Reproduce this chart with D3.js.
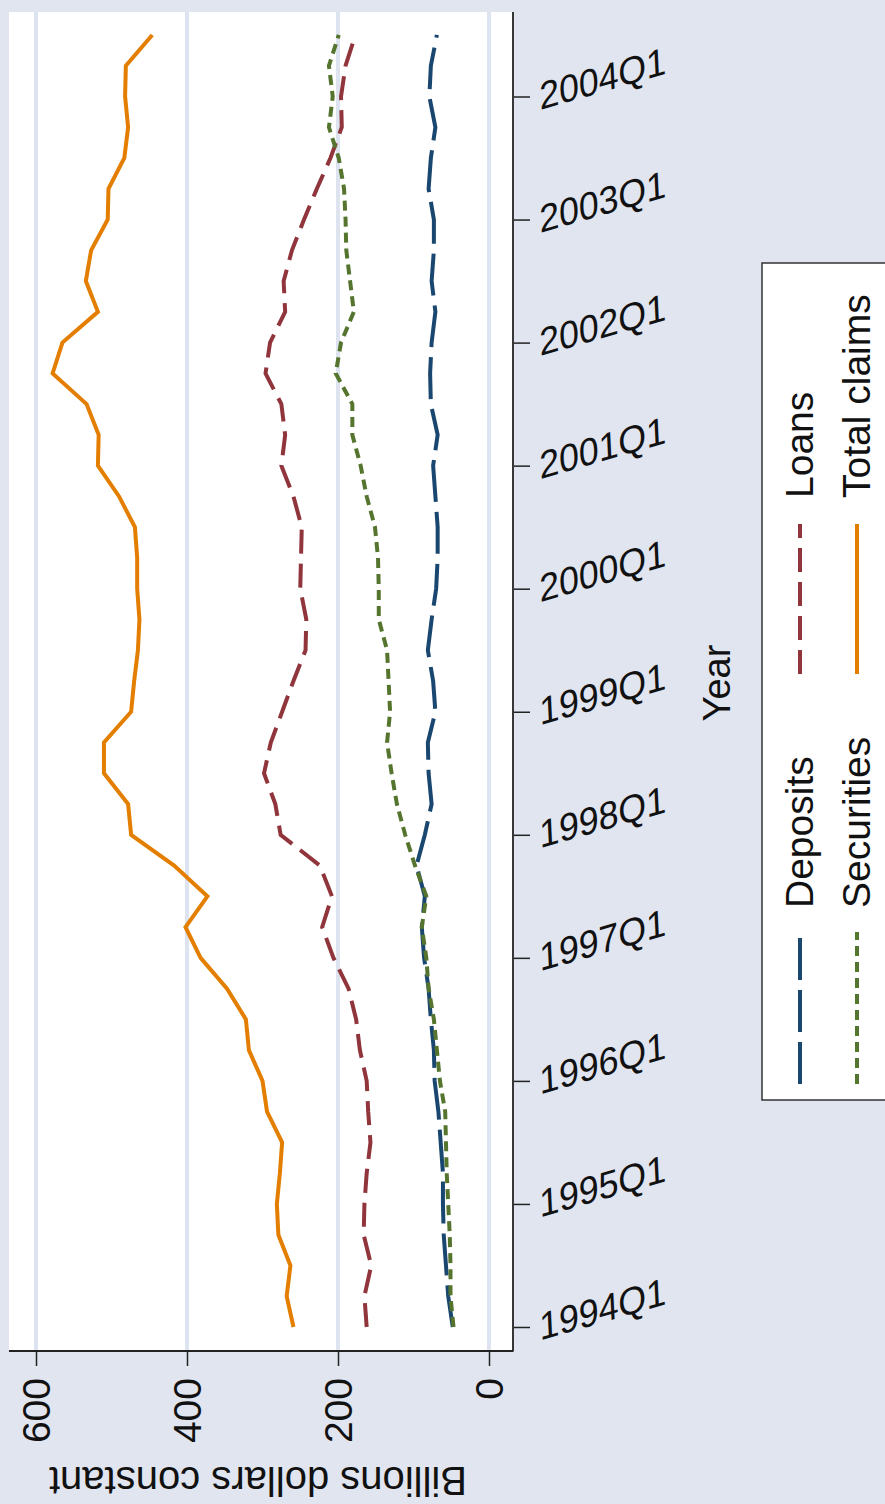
<!DOCTYPE html>
<html>
  <head>
    <meta charset="utf-8">
    <title>Foreign claims</title>
    <script src="https://d3js.org/d3.v7.min.js"></script>
    <style>
      body { margin: 0; background: #e0e5f0; }
      svg { display: block; }
      text { font-family: "Liberation Sans", Arial, sans-serif; fill: #111; }
      .axis .domain { display: none; }
      .axis .tick line { stroke: #222; stroke-width: 1.5px; }
      .grid { stroke: #dde3ef; stroke-width: 4px; }
    </style>
  </head>
  <body>
    <svg width="885" height="1504"></svg>
    <script>
      // quarterly data, 1994Q1 .. 2004Q3 (billions, constant dollars)
      const yearLabels = ["1994Q1", "1995Q1", "1996Q1", "1997Q1", "1998Q1", "1999Q1",
                          "2000Q1", "2001Q1", "2002Q1", "2003Q1", "2004Q1"];
      const valueTicks = [0, 200, 400, 600];

      const deposits = [48, 54, 57, 60, 61, 61, 64, 67, 72, 73, 77, 80,
                        86, 89, 85, 96, 85, 76, 80, 81, 71, 74, 81, 76,
                        70, 68, 68, 71, 74, 68, 77, 78, 76, 71, 76, 73,
                        73, 80, 77, 71, 79, 77, 69];
      const loans = [162, 165, 156, 166, 165, 162, 157, 160, 162, 171, 176, 186,
                     206, 221, 208, 224, 276, 283, 298, 289, 274, 259, 243, 242,
                     250, 249, 248, 259, 275, 270, 275, 296, 290, 270, 272, 261,
                     245, 228, 210, 195, 196, 190, 177];
      const securities = [47, 51, 51, 52, 54, 56, 57, 58, 65, 69, 73, 80,
                          83, 89, 83, 98, 111, 122, 129, 135, 131, 133, 135, 146,
                          146, 147, 151, 162, 170, 181, 181, 203, 196, 179, 184, 189,
                          190, 192, 199, 212, 207, 212, 199];
      const totalClaims = [259, 268, 263, 279, 281, 277, 274, 294, 300, 318, 322, 347,
                           382, 402, 373, 417, 474, 478, 510, 510, 474, 470, 465, 463,
                           466, 466, 469, 490, 518, 517, 533, 578, 565, 518, 534, 527,
                           505, 504, 483, 478, 482, 481, 446];

      const series = [
        {name: "Deposits", values: deposits, color: "#1a476f", dash: "42,10"},
        {name: "Loans", values: loans, color: "#90353b", dash: "24,10"},
        {name: "Securities", values: securities, color: "#55752f", dash: "10,6"},
        {name: "Total claims", values: totalClaims, color: "#e37e00", dash: null}
      ];

      const svg = d3.select("svg");
      const plot = {left: 9, right: 513, top: 12, bottom: 1351};

      // chart is laid out turned on its side: values run right-to-left, time bottom-to-top
      const x = d3.scaleLinear().domain([0, 600]).range([489, 36]);
      const y = d3.scaleLinear().domain([0, 40]).range([1327, 96.5]);

      svg.append("rect")
          .attr("x", plot.left).attr("y", plot.top)
          .attr("width", plot.right - plot.left).attr("height", plot.bottom - plot.top)
          .attr("fill", "#fff");

      svg.append("g").selectAll("line").data(valueTicks)
        .enter().append("line")
          .attr("class", "grid")
          .attr("x1", d => x(d)).attr("x2", d => x(d))
          .attr("y1", plot.top).attr("y2", plot.bottom);

      const line = d3.line()
          .x(d => x(d))
          .y((d, i) => y(i));

      svg.append("g").selectAll("path").data(series)
        .enter().append("path")
          .attr("d", d => line(d.values))
          .attr("fill", "none")
          .attr("stroke", d => d.color)
          .attr("stroke-width", 4)
          .attr("stroke-dasharray", d => d.dash);

      // axis lines
      svg.append("line")
          .attr("x1", plot.left).attr("x2", plot.right + 0.5)
          .attr("y1", plot.bottom).attr("y2", plot.bottom)
          .attr("stroke", "#222").attr("stroke-width", 1.8);
      svg.append("line")
          .attr("x1", plot.right).attr("x2", plot.right)
          .attr("y1", plot.top).attr("y2", plot.bottom)
          .attr("stroke", "#222").attr("stroke-width", 1.8);

      const valueAxis = d3.axisBottom(x).tickValues(valueTicks).tickSize(15);
      const valueAxisG = svg.append("g")
          .attr("class", "axis")
          .attr("transform", `translate(0,${plot.bottom})`)
          .call(valueAxis);
      valueAxisG.selectAll("text")
          .attr("x", 0).attr("y", 0).attr("dy", "0.35em")
          .attr("text-anchor", "end")
          .attr("font-size", 39)
          .attr("transform", "translate(0,27) rotate(-90)");

      const timeAxis = d3.axisRight(y)
          .tickValues(yearLabels.map((d, i) => i * 4))
          .tickFormat((d, i) => yearLabels[i])
          .tickSize(16);
      const timeAxisG = svg.append("g")
          .attr("class", "axis")
          .attr("transform", `translate(${plot.right + 1},0)`)
          .call(timeAxis);
      timeAxisG.selectAll("text")
          .attr("x", 0).attr("y", 0).attr("dy", 0)
          .attr("text-anchor", "start")
          .attr("font-size", 37)
          .attr("transform", "translate(26,13) matrix(0.961,-0.276,0.05,1.04,0,0)");

      // axis titles
      svg.append("text")
          .attr("transform", "translate(730,683) rotate(-90)")
          .attr("text-anchor", "middle")
          .attr("font-size", 38)
          .text("Year");
      svg.append("text")
          .attr("transform", "translate(258,1467) rotate(180)")
          .attr("text-anchor", "middle")
          .attr("font-size", 40)
          .text("Billions dollars constant");

      // legend
      const legend = svg.append("g");
      legend.append("rect")
          .attr("x", 762).attr("y", 263)
          .attr("width", 150).attr("height", 837)
          .attr("fill", "#fff")
          .attr("stroke", "#333").attr("stroke-width", 1.5);

      const legendPos = [
        {kx: 800, ty: 908, k0: 1084, k1: 932},
        {kx: 800, ty: 498, k0: 674, k1: 524},
        {kx: 857, ty: 908, k0: 1084, k1: 932},
        {kx: 857, ty: 498, k0: 674, k1: 524}
      ];
      const items = legend.selectAll("g.item").data(series)
        .enter().append("g").attr("class", "item");
      items.append("line")
          .attr("x1", (d, i) => legendPos[i].kx).attr("x2", (d, i) => legendPos[i].kx)
          .attr("y1", (d, i) => legendPos[i].k0).attr("y2", (d, i) => legendPos[i].k1)
          .attr("stroke", d => d.color)
          .attr("stroke-width", 4)
          .attr("stroke-dasharray", d => d.dash);
      items.append("text")
          .attr("transform", (d, i) => `translate(${legendPos[i].kx + 13},${legendPos[i].ty}) rotate(-90)`)
          .attr("font-size", 39)
          .text(d => d.name);
    </script>
  </body>
</html>
